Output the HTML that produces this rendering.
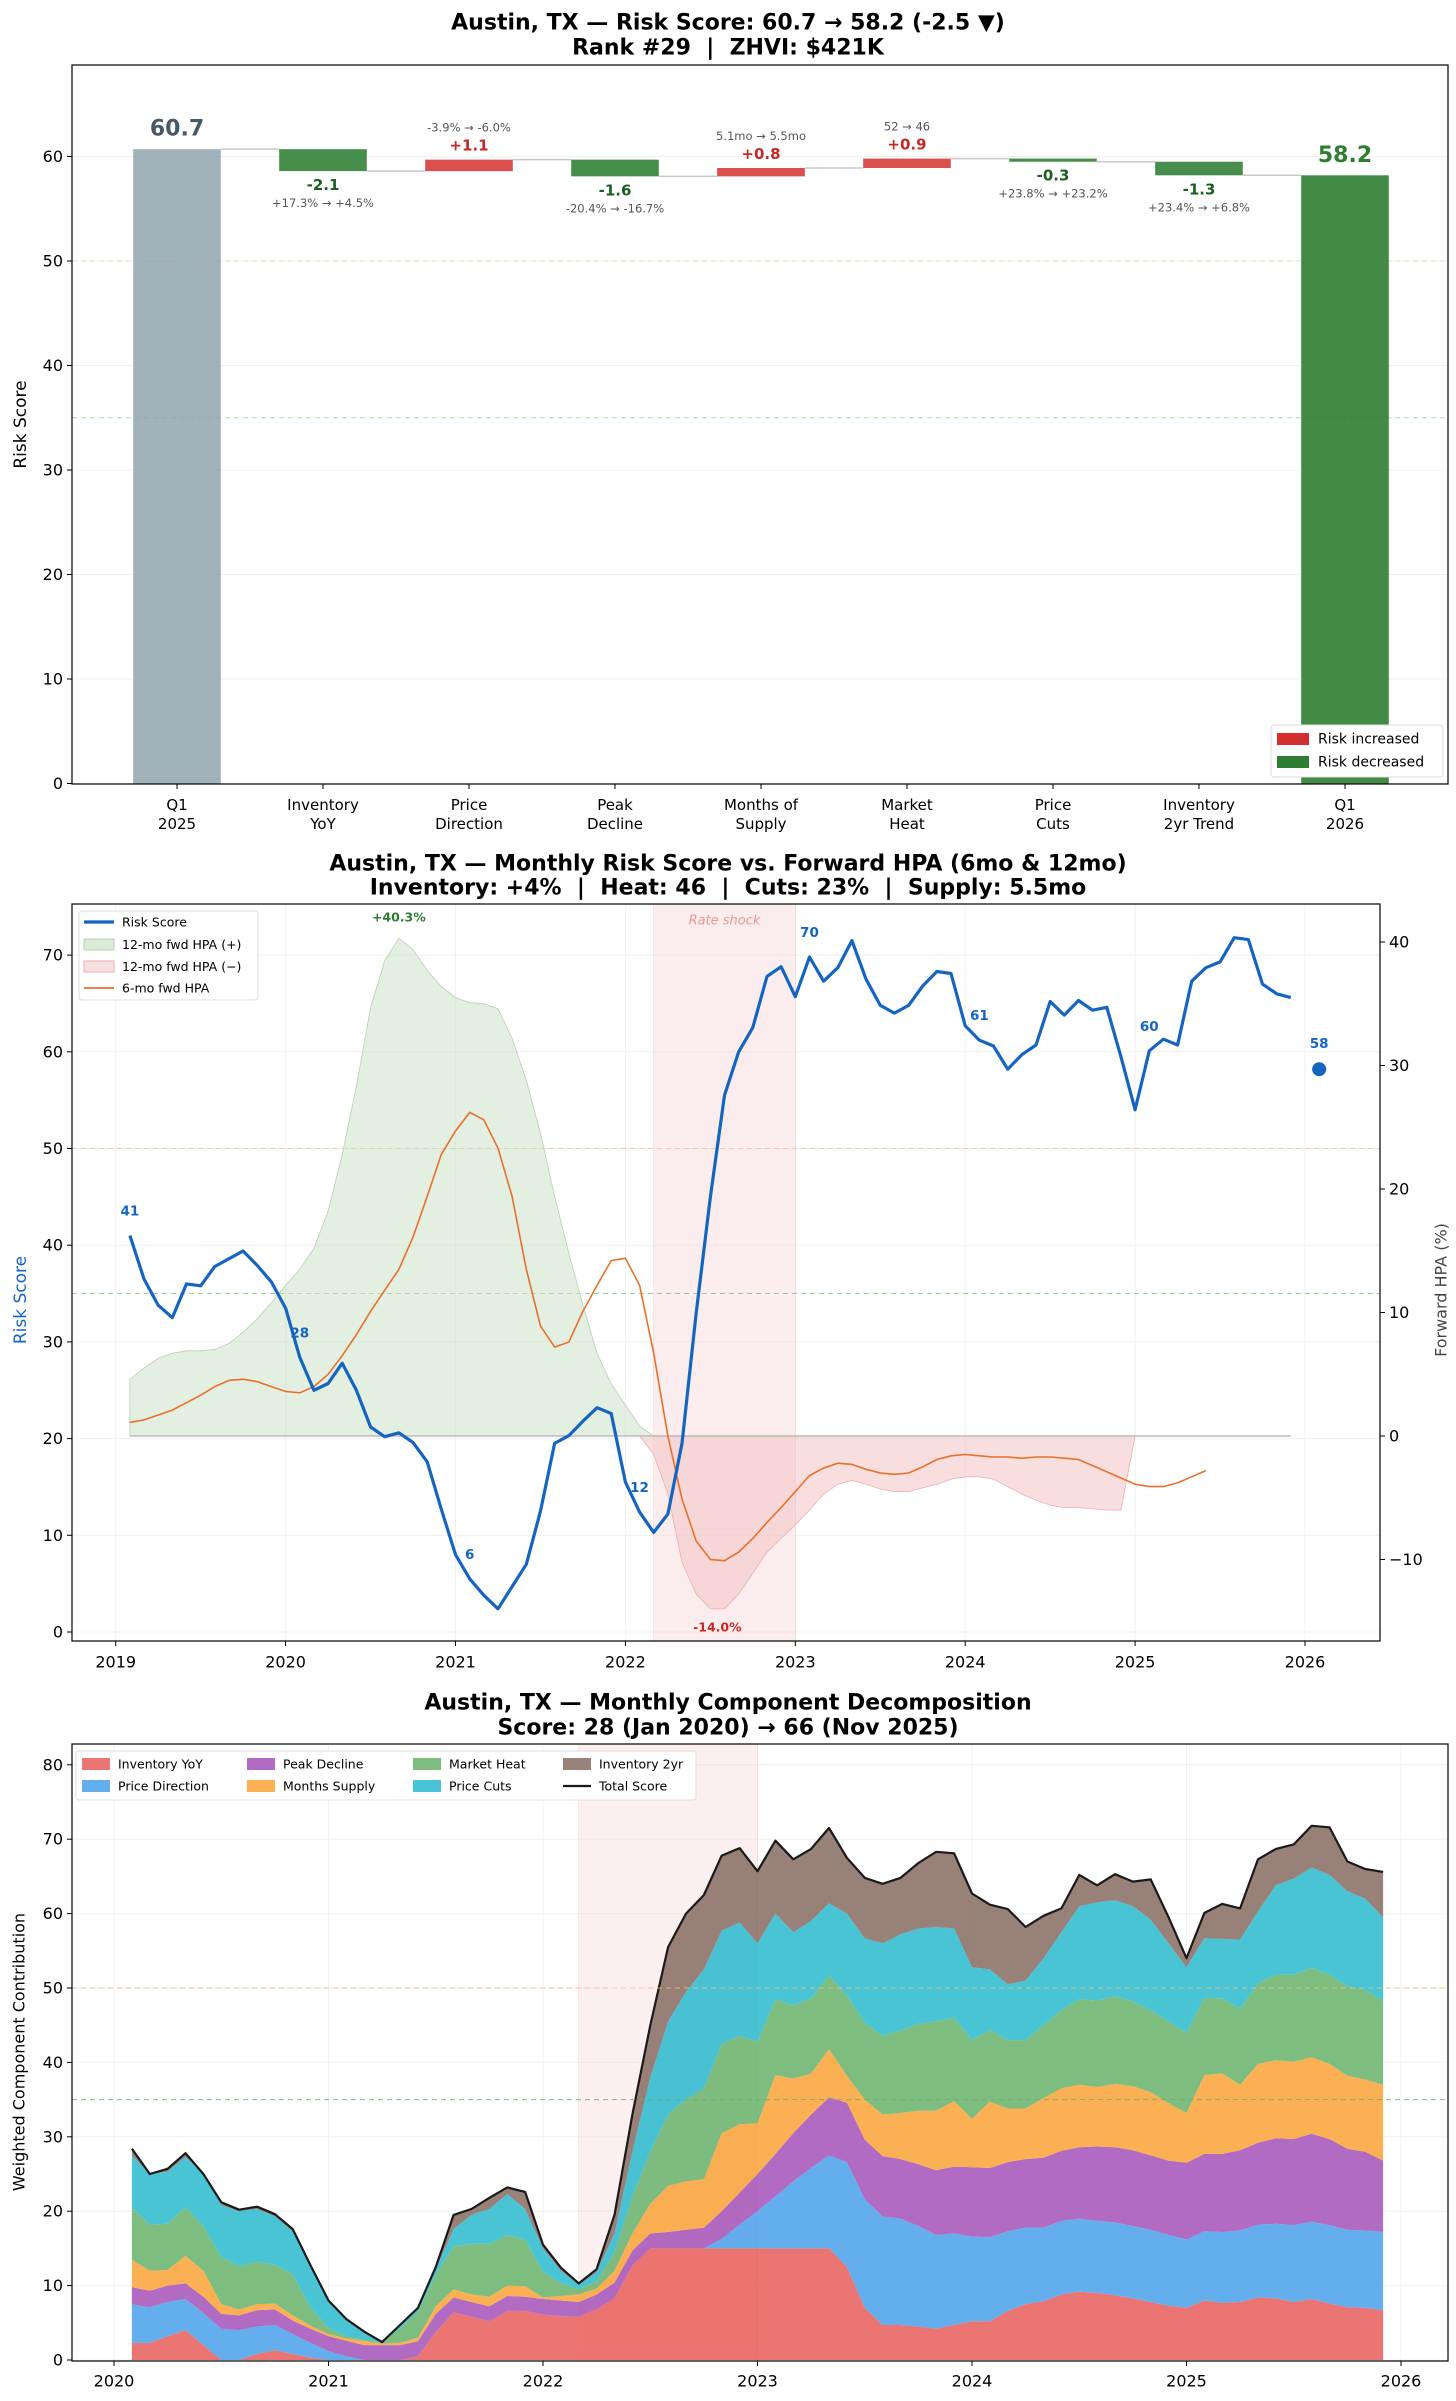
<!DOCTYPE html>
<html><head><meta charset="utf-8"><title>Austin, TX Risk Score</title>
<style>
html,body{margin:0;padding:0;background:#fff;}
svg{display:block;font-family:"DejaVu Sans","Liberation Sans",sans-serif;}
svg text{white-space:pre;}
</style></head>
<body>
<svg id="root" xmlns="http://www.w3.org/2000/svg" width="1456" height="2401" viewBox="0 0 1456 2401"></svg>
<script>
// ---------- Chart 1 data (waterfall) ----------
const wfLabels1 = ["Q1","Inventory","Price","Peak","Months of","Market","Price","Inventory","Q1"];
const wfLabels2 = ["2025","YoY","Direction","Decline","Supply","Heat","Cuts","2yr Trend","2026"];
const wfStart = 60.7;
const wfDeltas = [-2.1, 1.1, -1.6, 0.8, 0.9, -0.3, -1.3];
const wfDetails = ["+17.3% \u2192 +4.5%","-3.9% \u2192 -6.0%","-20.4% \u2192 -16.7%","5.1mo \u2192 5.5mo","52 \u2192 46","+23.8% \u2192 +23.2%","+23.4% \u2192 +6.8%"];
const wfEnd = 58.2;
const wfYTicks = [0,10,20,30,40,50,60];

// ---------- Chart 2 data (monthly risk vs fwd HPA), start Feb 2019 ----------
const riskScore = [41,36.5,33.8,32.5,36,35.8,37.8,38.6,39.4,37.9,36.2,33.5,
 28.4,25,25.7,27.8,25,21.2,20.2,20.6,19.6,17.6,12.7,8,
 5.5,3.8,2.4,4.7,7,12.5,19.5,20.3,21.8,23.2,22.6,15.5,
 12.4,10.3,12.2,19.5,33,45,55.5,60,62.5,67.8,68.8,65.7,
 69.8,67.3,68.7,71.5,67.5,64.8,64,64.8,66.8,68.3,68.1,62.7,
 61.2,60.6,58.2,59.7,60.7,65.2,63.8,65.3,64.3,64.6,59.5,54,
 60.1,61.3,60.7,67.3,68.7,69.3,71.8,71.6,67,66,65.6];
const hpa12 = [4.6,5.5,6.3,6.7,6.9,6.9,7.0,7.5,8.4,9.5,10.8,12.2,
 13.5,15.2,18.2,22.8,28.3,34.7,38.5,40.3,39.4,37.7,36.4,35.5,
 35.1,35.0,34.6,32.2,28.8,24.5,19.4,14.8,10.6,6.7,4.2,2.5,
 0.8,-1.5,-4.7,-10.2,-12.8,-14.0,-14.0,-12.8,-11.1,-9.4,-8.3,-7.2,
 -6.0,-4.7,-3.9,-3.6,-3.9,-4.3,-4.5,-4.5,-4.2,-3.9,-3.5,-3.3,
 -3.3,-3.5,-4.1,-4.7,-5.2,-5.6,-5.8,-5.8,-5.9,-6.0,-6.0,0];
const hpa6 = [1.1,1.3,1.7,2.1,2.7,3.3,4.0,4.5,4.6,4.4,4.0,3.6,
 3.5,4.0,5.0,6.5,8.2,10.1,11.8,13.5,16.1,19.4,22.8,24.7,
 26.2,25.6,23.3,19.4,13.5,8.9,7.2,7.6,10.1,12.2,14.2,14.4,
 12.2,6.7,0,-5.1,-8.5,-10.0,-10.1,-9.4,-8.3,-7.0,-5.8,-4.5,
 -3.2,-2.6,-2.2,-2.3,-2.7,-3.0,-3.1,-3.0,-2.5,-1.9,-1.6,-1.5,
 -1.6,-1.7,-1.7,-1.8,-1.7,-1.7,-1.8,-1.9,-2.4,-2.9,-3.4,-3.9,
 -4.1,-4.1,-3.8,-3.3,-2.8];
const latestScore = 58.2;
const years2 = [2019,2020,2021,2022,2023,2024,2025,2026];
const leftTicks2 = [0,10,20,30,40,50,60,70];
const rightTicks2 = [-10,0,10,20,30,40];

// ---------- Chart 3 data (components), start Feb 2020 ----------
const compInvYoY = [2.3,2.3,3.2,4.0,2.0,0,0,0.8,1.3,0.8,0.3,0,0,0,0,0,0.5,3.8,6.4,5.8,5.2,6.6,6.6,6.1,5.9,5.8,6.8,8.3,12.7,15,15,15,15,15,15,15,15,15,15,15,12.5,7.0,4.7,4.7,4.5,4.2,4.7,5.2,5.2,6.6,7.5,7.9,8.8,9.2,9.0,8.7,8.3,7.8,7.3,7.0,8.0,7.7,7.8,8.4,8.3,7.8,8.2,7.6,7.1,7.0,6.7];
const compPriceDir = [5.2,4.8,4.6,4.2,4.3,4.2,4.0,3.7,3.4,2.7,2.0,1.2,0.5,0,0,0,0,0,0,0,0,0,0,0,0,0,0,0,0,0,0,0,0,1.3,3.2,5.0,7.0,9.0,10.8,12.5,14.1,14.6,14.6,14.3,13.5,12.6,12.3,11.4,11.3,10.7,10.3,9.9,9.9,9.8,9.7,9.8,9.7,9.7,9.5,9.2,9.3,9.5,9.6,9.8,10.0,10.3,10.4,10.5,10.4,10.4,10.5];
const compPeakDecline = [2.3,2.2,2.2,2.1,2.2,2.0,2.0,2.2,2.1,1.8,1.9,2.0,2.1,2.0,2.0,2.0,2.0,2.4,2.0,2.0,2.0,2.0,1.9,2.1,2.1,2.0,2.0,2.1,2.0,2.0,2.2,2.5,2.8,3.7,4.3,5.0,5.7,6.5,7.2,7.8,8.0,8.0,8.1,8.0,8.3,8.7,9.0,9.3,9.3,9.3,9.2,9.4,9.4,9.6,10.0,10.1,10.2,10.0,10.0,10.3,10.4,10.5,10.8,11.0,11.5,11.6,11.8,11.6,10.9,10.6,9.6];
const compMonthsSupply = [3.7,2.7,2.1,3.7,3.5,1.3,0.8,0.8,0.8,0.7,0.4,0.3,0.3,0.6,0.2,0.3,0.5,1.0,1.1,1.0,1.3,1.4,1.4,0.2,0.6,1.0,0.8,1.6,2.3,4.0,6.2,6.5,6.5,10.5,9.2,6.8,10.6,7.3,5.5,6.5,3.6,5.4,5.6,6.2,7.2,8.0,8.8,6.5,8.9,7.2,6.8,8.0,8.4,8.4,8.0,8.5,8.6,8.5,7.7,6.7,10.6,10.8,8.8,10.6,10.5,10.4,10.3,10.1,9.8,9.7,10.2];
const compMarketHeat = [7.0,6.2,6.2,6.5,6.0,6.3,5.8,5.7,5.2,5.5,2.4,0.8,0.3,0.1,0.2,1.9,3.5,4.3,5.8,6.8,7.1,6.8,6.3,3.5,1.7,0.7,1.0,2.5,5.0,7.0,9.6,11.0,12.2,12.0,11.9,11.0,10.2,9.9,10.1,9.9,10.8,10.3,10.6,11.1,11.7,12.0,11.2,10.6,9.7,9.2,9.2,9.8,10.5,11.5,11.6,11.8,11.4,11.0,11.0,10.8,10.4,10.1,10.2,10.8,11.5,11.7,12.0,12.0,12.0,12.0,11.3];
const compPriceCuts = [7.0,6.8,7.0,6.8,7.0,7.0,7.4,7.1,6.5,5.8,5.5,3.5,2.1,0.9,0,0.3,0.3,0.7,2.3,3.9,4.7,5.5,4.1,3.1,1.7,0.6,1.2,2.5,6.0,10.0,12.5,14.5,16.0,15.2,15.2,13.2,11.5,9.8,10.4,9.7,11.0,11.4,12.4,12.9,12.8,12.7,12.0,9.8,8.1,7.5,8.0,9.0,10.5,12.5,13.2,12.9,12.8,12.2,10.5,8.8,8.0,8.0,9.3,9.7,12.0,12.9,13.5,13.4,12.8,12.3,11.2];
const compInv2yr = [0.9,0,0.4,0.5,0,0.4,0.2,0.3,0.3,0.3,0.2,0.2,0.2,0.2,0,0.2,0.2,0.3,1.9,0.8,1.5,0.9,2.3,0.5,0.4,0.2,0.4,2.5,5.0,7.0,10.0,10.5,10.0,10.1,10.0,9.7,9.8,9.8,9.7,10.1,7.5,8.1,8.0,7.6,8.8,10.1,10.1,9.9,8.7,10.1,7.2,5.7,3.2,4.2,2.3,3.5,3.3,5.4,3.5,1.2,3.4,4.7,4.2,7.0,4.9,4.6,5.6,6.4,4.0,4.0,6.1];
const totalScore3 = riskScore.slice(12);
const compNames = ["Inventory YoY","Price Direction","Peak Decline","Months Supply","Market Heat","Price Cuts","Inventory 2yr"];
const years3 = [2020,2021,2022,2023,2024,2025,2026];
const yTicks3 = [0,10,20,30,40,50,60,70,80];

// ---------- helpers ----------
const NS = "http://www.w3.org/2000/svg";
const root = document.getElementById("root");
function mk(tag, attrs, parent){
  const e = document.createElementNS(NS, tag);
  for (const k in attrs) e.setAttribute(k, attrs[k]);
  (parent||root).appendChild(e);
  return e;
}
function txt(str, x, y, size, opts, parent){
  const o = opts||{};
  const e = mk("text", {x:x, y:y, "font-size":size, fill:o.fill||"#000", "text-anchor":o.anchor||"middle", "font-weight":o.weight||"normal"}, parent);
  if (o.italic) e.setAttribute("font-style","italic");
  if (o.rotate) e.setAttribute("transform","rotate("+o.rotate+" "+x+" "+y+")");
  e.setAttribute("dominant-baseline", o.base||"central");
  e.textContent = str;
  return e;
}
function pts(arr){ return arr.map(p=>p[0].toFixed(1)+","+p[1].toFixed(1)).join(" "); }

// =================== CHART 1 ===================
(function(){
  const L=72,R=1448,T=65,B=784;
  const xs = i => 177 + 146*i;
  const ys = v => 783.5 - 10.45*v;
  const g = mk("g", {});
  
  
  let t = txt("Austin, TX \u2014 Risk Score: 60.7 \u2192 58.2 (-2.5 \u25BC)", 728, 23, 22, {weight:"bold"}, g);
  
  
  t = txt("Rank #29  |  ZHVI: $421K", 728, 48, 22, {weight:"bold"}, g);
  
  
  wfYTicks.forEach(v=>{
    const ln = mk("line",{x1:L,x2:R,y1:ys(v),y2:ys(v),stroke:"#f0f0f0","stroke-width":1},g);
    
    
    const tk = mk("line",{x1:L-5,x2:L,y1:ys(v),y2:ys(v),stroke:"#000","stroke-width":1},g);
    
    
    const lb = txt(String(v), L-9, ys(v), 16, {anchor:"end"}, g);
    
    
  });
  let d = mk("line",{x1:L,x2:R,y1:ys(50),y2:ys(50),stroke:"#f3c27a","stroke-width":1,"stroke-dasharray":"5,4",opacity:0.6},g);
  
  
  d = mk("line",{x1:L,x2:R,y1:ys(35),y2:ys(35),stroke:"#7cbf7c","stroke-width":1,"stroke-dasharray":"5,4",opacity:0.6},g);
  
  
  const bw = 146*0.6;
  let b = mk("rect",{x:xs(0)-bw/2,y:ys(wfStart),width:bw,height:ys(0)-ys(wfStart),fill:"#90a4ae","fill-opacity":0.85},g);
  
  
  t = txt(wfStart.toFixed(1), xs(0), ys(wfStart)-20, 22, {weight:"bold",fill:"#455a64"}, g);
  
  
  let level = wfStart;
  wfDeltas.forEach((dv,k)=>{
    const i = k+1;
    const c = mk("line",{x1:xs(i-1)+bw/2,x2:xs(i)-bw/2,y1:ys(level),y2:ys(level),stroke:"#c8c8c8","stroke-width":1.5},g);
    
    
    const nl = level + dv;
    const top = Math.max(level,nl), bot = Math.min(level,nl);
    const up = dv>0;
    const r = mk("rect",{x:xs(i)-bw/2,y:ys(top),width:bw,height:ys(bot)-ys(top),fill:up?"#d32f2f":"#2e7d32","fill-opacity":up?0.85:0.88},g);
    
    
    const lbl = (dv>0?"+":"")+dv.toFixed(1);
    if (up){
      t = txt(lbl, xs(i), ys(top)-14, 15, {weight:"bold",fill:"#c62828"}, g);
      
      
      t = txt(wfDetails[k], xs(i), ys(top)-32, 11.5, {fill:"#555"}, g);
      
      
    } else {
      t = txt(lbl, xs(i), ys(bot)+14, 15, {weight:"bold",fill:"#1b5e20"}, g);
      
      
      t = txt(wfDetails[k], xs(i), ys(bot)+32, 11.5, {fill:"#555"}, g);
      
      
    }
    level = nl;
  });
  const c = mk("line",{x1:xs(7)+bw/2,x2:xs(8)-bw/2,y1:ys(level),y2:ys(level),stroke:"#c8c8c8","stroke-width":1.5},g);
  
  
  b = mk("rect",{x:xs(8)-bw/2,y:ys(wfEnd),width:bw,height:ys(0)-ys(wfEnd),fill:"#2e7d32","fill-opacity":0.9},g);
  
  
  t = txt(wfEnd.toFixed(1), xs(8), ys(wfEnd)-20, 22, {weight:"bold",fill:"#2e7d32"}, g);
  
  
  wfLabels1.forEach((s,i)=>{
    const tk = mk("line",{x1:xs(i),x2:xs(i),y1:B,y2:B+5,stroke:"#000","stroke-width":1},g);
    
    
    let a = txt(s, xs(i), 805, 15, {}, g);
    
    
    a = txt(wfLabels2[i], xs(i), 824, 15, {}, g);
    
    
  });
  const fr = mk("rect",{x:L,y:T,width:R-L,height:B-T,fill:"none",stroke:"#000","stroke-width":1.2},g);
  
  
  t = txt("Risk Score", 21, (T+B)/2, 17, {rotate:-90}, g);
  
  
  const lg = mk("g",{},g);
  
  
  const lb = mk("rect",{x:1271,y:725,width:172,height:52,fill:"#fff",stroke:"#ddd",rx:3},lg);
  
  
  let p = mk("rect",{x:1277,y:733,width:32,height:12,fill:"#d32f2f"},lg);
  
  
  t = txt("Risk increased", 1318, 739.5, 14, {anchor:"start"}, lg);
  
  
  p = mk("rect",{x:1277,y:756,width:32,height:12,fill:"#2e7d32"},lg);
  
  
  t = txt("Risk decreased", 1318, 762.5, 14, {anchor:"start"}, lg);
  
  
})();

// =================== CHART 2 ===================
(function(){
  const L=72,R=1380,T=904,B=1641;
  const xd = tt => 115.7 + 169.9*(tt-2019);
  const yl = v => 1632 - 9.67*v;
  const yr = p => 1436 - 12.35*p;
  const tm = i => 2019 + (i+1)/12;
  const g = mk("g",{});
  
  
  let t = txt("Austin, TX \u2014 Monthly Risk Score vs. Forward HPA (6mo & 12mo)", 728, 864, 22, {weight:"bold"}, g);
  
  
  t = txt("Inventory: +4%  |  Heat: 46  |  Cuts: 23%  |  Supply: 5.5mo", 728, 888, 22, {weight:"bold"}, g);
  
  
  const clipId = "clip2";
  const cp = mk("clipPath",{id:clipId},g);
  mk("rect",{x:L,y:T,width:R-L,height:B-T},cp);
  const pg = mk("g",{"clip-path":"url(#"+clipId+")"},g);
  years2.forEach(y=>{
    const ln = mk("line",{x1:xd(y),x2:xd(y),y1:T,y2:B,stroke:"#f0f0f0","stroke-width":1},pg);
    
    
  });
  leftTicks2.forEach(v=>{
    const ln = mk("line",{x1:L,x2:R,y1:yl(v),y2:yl(v),stroke:"#f0f0f0","stroke-width":1},pg);
    
    
  });
  const band = mk("rect",{x:xd(2022+2/12),y:T,width:xd(2023)-xd(2022+2/12),height:B-T,fill:"#f6d8d6","fill-opacity":0.45,stroke:"#f0c8c8","stroke-width":0.5},pg);
  
  
  t = txt("Rate shock", (xd(2022+2/12)+xd(2023))/2, 921, 13, {italic:true,fill:"#e39a9a"}, g);
  
  
  let d = mk("line",{x1:L,x2:R,y1:yl(50),y2:yl(50),stroke:"#f3c27a","stroke-width":1,"stroke-dasharray":"5,4",opacity:0.75},pg);
  
  
  d = mk("line",{x1:L,x2:R,y1:yl(35),y2:yl(35),stroke:"#7cbf7c","stroke-width":1,"stroke-dasharray":"5,4",opacity:0.75},pg);
  
  
  const posTop = hpa12.map((v,i)=>[xd(tm(i)), yr(Math.max(v,0))]);
  const negTop = hpa12.map((v,i)=>[xd(tm(i)), yr(Math.min(v,0))]);
  const base = hpa12.map((v,i)=>[xd(tm(i)), yr(0)]).reverse();
  let f = mk("polygon",{points:pts(posTop.concat(base)),fill:"#c8e0c4","fill-opacity":0.5,stroke:"#b5d2b0","stroke-width":0.8},pg);
  
  
  f = mk("polygon",{points:pts(negTop.concat(base)),fill:"#f2c2c2","fill-opacity":0.55,stroke:"#eab0b0","stroke-width":0.8},pg);
  
  
  const zl = mk("line",{x1:xd(tm(0)),x2:xd(tm(riskScore.length-1)),y1:yr(0),y2:yr(0),stroke:"#bbbbbb","stroke-width":1.5},pg);
  
  
  const l6 = mk("polyline",{points:pts(hpa6.map((v,i)=>[xd(tm(i)),yr(v)])),fill:"none",stroke:"#e8702a","stroke-width":1.6},pg);
  
  
  const rl = mk("polyline",{points:pts(riskScore.map((v,i)=>[xd(tm(i)),yl(v)])),fill:"none",stroke:"#1565c0","stroke-width":3.2,"stroke-linejoin":"round"},pg);
  
  
  for (let i=0;i<riskScore.length;i+=12){
    const lab = txt(String(Math.round(riskScore[i])), xd(tm(i)), yl(riskScore[i])-24, 13.5, {weight:"bold",fill:"#1565c0"}, g);
    
    
  }
  const dot = mk("circle",{cx:xd(2026+1/12),cy:yl(latestScore),r:7,fill:"#1565c0"},g);
  
  
  t = txt(String(Math.round(latestScore)), xd(2026+1/12), yl(latestScore)-25, 13.5, {weight:"bold",fill:"#1565c0"}, g);
  
  
  let mx=0, mi=0;
  hpa12.forEach((v,i)=>{ if(v>hpa12[mx]) mx=i; if(v<hpa12[mi]) mi=i; });
  t = txt("+"+hpa12[mx].toFixed(1)+"%", xd(tm(mx)), 917, 12.5, {weight:"bold",fill:"#2e7d32"}, g);
  
  
  t = txt(hpa12[mi].toFixed(1)+"%", xd(tm(mi))+7, 1627, 12.5, {weight:"bold",fill:"#c62828"}, g);
  
  
  leftTicks2.forEach(v=>{
    const tk = mk("line",{x1:L-5,x2:L,y1:yl(v),y2:yl(v),stroke:"#000"},g);
    
    
    const lb = txt(String(v), L-9, yl(v), 16, {anchor:"end"}, g);
    
    
  });
  rightTicks2.forEach(v=>{
    const tk = mk("line",{x1:R,x2:R+5,y1:yr(v),y2:yr(v),stroke:"#000"},g);
    
    
    const lb = txt(v<0?"\u2212"+Math.abs(v):String(v), R+9, yr(v), 16, {anchor:"start"}, g);
    
    
  });
  years2.forEach(y=>{
    const tk = mk("line",{x1:xd(y),x2:xd(y),y1:B,y2:B+5,stroke:"#000"},g);
    
    
    const lb = txt(String(y), xd(y), 1662, 16, {}, g);
    
    
  });
  const fr = mk("rect",{x:L,y:T,width:R-L,height:B-T,fill:"none",stroke:"#000","stroke-width":1.2},g);
  
  
  t = txt("Risk Score", 21, 1300, 17, {rotate:-90,fill:"#1565c0"}, g);
  
  
  t = txt("Forward HPA (%)", 1441, 1290, 16, {rotate:-90,fill:"#444"}, g);
  
  
  const lg = mk("g",{},g);
  
  
  const bx = mk("rect",{x:79,y:911,width:179,height:89,fill:"#fff","fill-opacity":0.85,stroke:"#ddd",rx:3},lg);
  
  
  let s = mk("line",{x1:84,x2:114,y1:922,y2:922,stroke:"#1565c0","stroke-width":3.2},lg);
  
  
  t = txt("Risk Score", 122, 922, 12.5, {anchor:"start"}, lg);
  
  
  s = mk("rect",{x:84,y:939,width:30,height:11,fill:"#dcebd8",stroke:"#b5d2b0"},lg);
  
  
  t = txt("12-mo fwd HPA (+)", 122, 944.5, 12.5, {anchor:"start"}, lg);
  
  
  s = mk("rect",{x:84,y:961,width:30,height:11,fill:"#f8e0e0",stroke:"#eab0b0"},lg);
  
  
  t = txt("12-mo fwd HPA (\u2212)", 122, 966.5, 12.5, {anchor:"start"}, lg);
  
  
  s = mk("line",{x1:84,x2:114,y1:988,y2:988,stroke:"#e8702a","stroke-width":1.8},lg);
  
  
  t = txt("6-mo fwd HPA", 122, 988, 12.5, {anchor:"start"}, lg);
  
  
})();

// =================== CHART 3 ===================
(function(){
  const L=72,R=1448,T=1744,B=2361;
  const x3 = tt => 114 + 214.5*(tt-2020);
  const y3 = v => 2360 - 7.44*v;
  const tm = i => 2020 + (i+1)/12;
  const comps = [compInvYoY, compPriceDir, compPeakDecline, compMonthsSupply, compMarketHeat, compPriceCuts, compInv2yr];
  const colors = ["#e8625e","#4fa3ea","#a656ba","#fba53b","#6cb46e","#2fbccf","#8a7067"];
  const names = ["inventory-yoy","price-direction","peak-decline","months-supply","market-heat","price-cuts","inventory-2yr"];
  const g = mk("g",{});
  
  
  let t = txt("Austin, TX \u2014 Monthly Component Decomposition", 728, 1703, 22, {weight:"bold"}, g);
  
  
  t = txt("Score: 28 (Jan 2020) \u2192 66 (Nov 2025)", 728, 1728, 22, {weight:"bold"}, g);
  
  
  years3.forEach(y=>{
    const ln = mk("line",{x1:x3(y),x2:x3(y),y1:T,y2:B,stroke:"#f0f0f0"},g);
    
    
  });
  yTicks3.forEach(v=>{
    const ln = mk("line",{x1:L,x2:R,y1:y3(v),y2:y3(v),stroke:"#f0f0f0"},g);
    
    
  });
  const band = mk("rect",{x:x3(2022+2/12),y:T,width:x3(2023)-x3(2022+2/12),height:B-T,fill:"#f6d8d6","fill-opacity":0.4,stroke:"#f0c8c8","stroke-width":0.5},g);
  
  
  const n = compInvYoY.length;
  let cum = new Array(n).fill(0);
  comps.forEach((arr,k)=>{
    const bottom = cum.map((v,i)=>[x3(tm(i)), y3(v)]);
    const next = cum.map((v,i)=>v+arr[i]);
    const top = next.map((v,i)=>[x3(tm(i)), y3(v)]);
    const poly = mk("polygon",{points:pts(top.concat(bottom.reverse())),fill:colors[k],"fill-opacity":0.88},g);
    
    
    cum = next;
  });
  const tl = mk("polyline",{points:pts(totalScore3.map((v,i)=>[x3(tm(i)),y3(v)])),fill:"none",stroke:"#1a1a1a","stroke-width":2.2,"stroke-linejoin":"round"},g);
  
  
  let d = mk("line",{x1:L,x2:R,y1:y3(50),y2:y3(50),stroke:"#f3c27a","stroke-width":1,"stroke-dasharray":"5,4",opacity:0.85},g);
  
  
  d = mk("line",{x1:L,x2:R,y1:y3(35),y2:y3(35),stroke:"#6fae6f","stroke-width":1,"stroke-dasharray":"5,4",opacity:0.85},g);
  
  
  yTicks3.forEach(v=>{
    const tk = mk("line",{x1:L-5,x2:L,y1:y3(v),y2:y3(v),stroke:"#000"},g);
    
    
    const lb = txt(String(v), L-9, y3(v), 16, {anchor:"end"}, g);
    
    
  });
  years3.forEach(y=>{
    const tk = mk("line",{x1:x3(y),x2:x3(y),y1:B,y2:B+5,stroke:"#000"},g);
    
    
    const lb = txt(String(y), x3(y), 2381, 16, {}, g);
    
    
  });
  const fr = mk("rect",{x:L,y:T,width:R-L,height:B-T,fill:"none",stroke:"#000","stroke-width":1.2},g);
  
  
  t = txt("Weighted Component Contribution", 19, 2052, 16, {rotate:-90}, g);
  
  
  const lg = mk("g",{},g);
  
  
  const bx = mk("rect",{x:76,y:1751,width:620,height:49,fill:"#fff","fill-opacity":0.9,stroke:"#ddd",rx:3},lg);
  
  
  const colX = [82,247,413,563];
  const rowY = [1764,1786];
  const entries = compNames.concat(["Total Score"]);
  entries.forEach((nm,k)=>{
    const cx = colX[Math.floor(k/2)], cy = rowY[k%2];
    if (k<7){
      const sw = mk("rect",{x:cx,y:cy-6,width:28,height:12,fill:colors[k],"fill-opacity":0.88},lg);
      
      
    } else {
      const sw = mk("line",{x1:cx,x2:cx+28,y1:cy,y2:cy,stroke:"#1a1a1a","stroke-width":2.2},lg);
      
      
    }
    const tt = txt(nm, cx+36, cy, 12.5, {anchor:"start"}, lg);
    
    
  });
})();
</script>
</body></html>
